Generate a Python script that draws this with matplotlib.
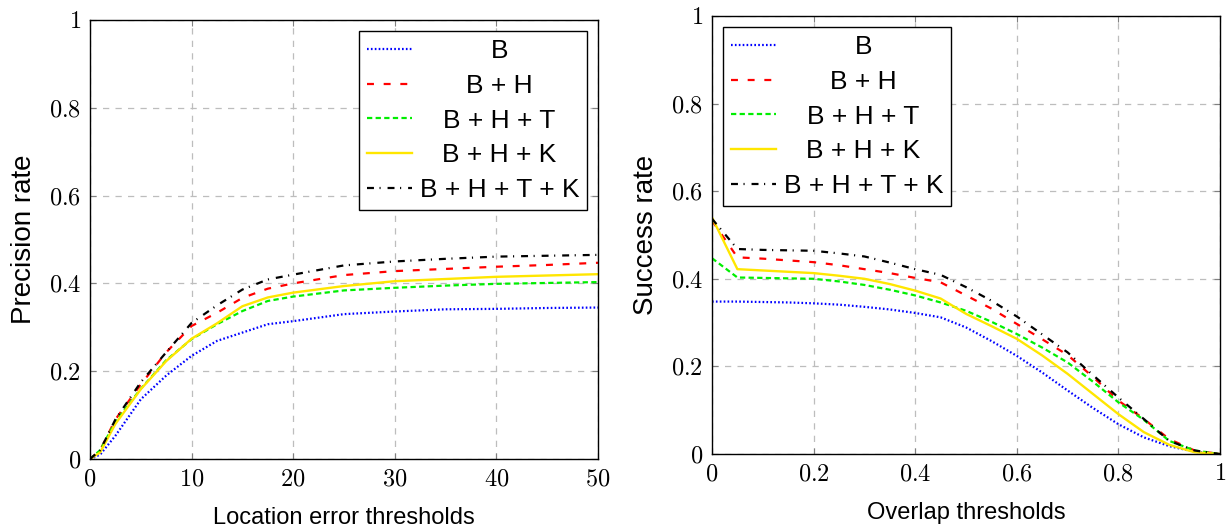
import numpy as np
import matplotlib
matplotlib.use("Agg")
from matplotlib import pyplot as plt
from matplotlib.ticker import FuncFormatter

plt.rcParams['mathtext.fontset'] = 'cm'
plt.rcParams['font.family'] = ['Liberation Sans', 'DejaVu Sans']
plt.rcParams['lines.scale_dashes'] = False

# Precision plot (location error thresholds)
prec_x = [0, 1, 2.5, 5, 7.5, 10, 12.5, 15, 17.5, 20, 25, 30, 35, 40, 45, 50]
prec_b = [0, 0.01, 0.053, 0.136, 0.19, 0.235, 0.269, 0.288, 0.307, 0.314, 0.33, 0.336, 0.341, 0.342, 0.344, 0.345]
prec_bh = [0, 0.02, 0.09, 0.17, 0.243, 0.303, 0.333, 0.367, 0.388, 0.40, 0.419, 0.428, 0.433, 0.438, 0.442, 0.447]
prec_bht = [0, 0.02, 0.085, 0.16, 0.225, 0.273, 0.307, 0.337, 0.36, 0.37, 0.384, 0.39, 0.395, 0.399, 0.401, 0.403]
prec_bhk = [0, 0.015, 0.08, 0.159, 0.223, 0.274, 0.309, 0.348, 0.368, 0.379, 0.394, 0.405, 0.41, 0.415, 0.418, 0.421]
prec_bhtk = [0, 0.02, 0.09, 0.175, 0.243, 0.31, 0.35, 0.386, 0.409, 0.42, 0.441, 0.45, 0.456, 0.461, 0.463, 0.465]

# Success plot (overlap thresholds)
succ_x = [0, 0.05, 0.1, 0.15, 0.2, 0.25, 0.3, 0.35, 0.4, 0.45, 0.5,
          0.55, 0.6, 0.65, 0.7, 0.75, 0.8, 0.85, 0.9, 0.95, 1.0]
succ_b = [0.348, 0.348, 0.347, 0.346, 0.344, 0.341, 0.336, 0.330, 0.322, 0.312, 0.289,
          0.258, 0.224, 0.186, 0.145, 0.105, 0.068, 0.038, 0.018, 0.005, 0.0]
succ_bh = [0.533, 0.449, 0.446, 0.442, 0.438, 0.431, 0.422, 0.413, 0.402, 0.392, 0.362,
           0.332, 0.297, 0.262, 0.226, 0.176, 0.122, 0.08, 0.034, 0.008, 0.0]
succ_bht = [0.447, 0.403, 0.402, 0.401, 0.40, 0.394, 0.386, 0.375, 0.362, 0.346, 0.327,
            0.302, 0.274, 0.243, 0.209, 0.165, 0.118, 0.078, 0.03, 0.008, 0.0]
succ_bhk = [0.540, 0.422, 0.419, 0.416, 0.413, 0.407, 0.40, 0.388, 0.373, 0.355, 0.32,
            0.292, 0.263, 0.225, 0.183, 0.137, 0.091, 0.05, 0.021, 0.004, 0.0]
succ_bhtk = [0.537, 0.468, 0.466, 0.465, 0.464, 0.458, 0.451, 0.437, 0.422, 0.409, 0.381,
             0.35, 0.314, 0.273, 0.232, 0.18, 0.129, 0.08, 0.03, 0.008, 0.0]

labels = ['B', 'B + H', 'B + H + T', 'B + H + K', 'B + H + T + K']
styles = [
    dict(color='#0000ff', linestyle=(0, (1.2, 1.6)), lw=1.6),
    dict(color='#ff0000', linestyle=(0, (5, 7)), lw=1.6),
    dict(color='#00ee00', linestyle=(0, (3.8, 2.4)), lw=1.6),
    dict(color='#ffe600', linestyle='-', lw=1.7),
    dict(color='black', linestyle=(0, (5, 4, 0.8, 5)), lw=1.6),
]

fig = plt.figure(figsize=(12.31, 5.32), dpi=100)
ax1 = fig.add_axes([90 / 1231, 1 - 459 / 532, 508 / 1231, 439 / 532])
ax2 = fig.add_axes([712 / 1231, 1 - 454 / 532, 508 / 1231, 438 / 532])

def fmt(v, pos):
    return '$' + ('%g' % v) + '$'

def style_axes(ax, xticks, xlim):
    ax.set_xlim(*xlim)
    ax.set_ylim(0, 1)
    ax.set_xticks(xticks)
    ax.set_yticks([0, 0.2, 0.4, 0.6, 0.8, 1])
    ax.xaxis.set_major_formatter(FuncFormatter(fmt))
    ax.yaxis.set_major_formatter(FuncFormatter(fmt))
    ax.grid(True, color='#bdbdbd', linestyle=(0, (4.5, 4.5)), lw=0.9)
    ax.tick_params(direction='in', top=True, right=True, length=4, width=0.8,
                   color='#808080', labelsize=17.5, pad=6.5)
    for sp in ax.spines.values():
        sp.set_linewidth(1.0)
        sp.set_color('black')

series1 = [prec_b, prec_bh, prec_bht, prec_bhk, prec_bhtk]
for y, st, lab in zip(series1, styles, labels):
    ax1.plot(prec_x, y, label=lab, **st)
style_axes(ax1, [0, 10, 20, 30, 40, 50], (0, 50))
ax1.set_xlabel('Location error thresholds', fontsize=17, labelpad=12)
ax1.set_ylabel('Precision rate', fontsize=20, labelpad=8)

series2 = [succ_b, succ_bh, succ_bht, succ_bhk, succ_bhtk]
for y, st, lab in zip(series2, styles, labels):
    ax2.plot(succ_x, y, label=lab, **st)
style_axes(ax2, [0, 0.2, 0.4, 0.6, 0.8, 1], (0, 1))
ax2.set_xlabel('Overlap thresholds', fontsize=17, labelpad=12)
ax2.set_ylabel('Success rate', fontsize=20, labelpad=8)

leg_kw = dict(fontsize=19, fancybox=False, framealpha=1, edgecolor='black',
              handlelength=1.7, handletextpad=0.3, labelspacing=0.41,
              borderpad=0.3, borderaxespad=0.42)
leg1 = ax1.legend(loc='upper right', **leg_kw)
leg2 = ax2.legend(loc='upper left', **leg_kw)
for leg in (leg1, leg2):
    leg.get_frame().set_linewidth(1.0)

# center legend labels inside the text column
fig.canvas.draw()
renderer = fig.canvas.get_renderer()
for leg in (leg1, leg2):
    texts = leg.get_texts()
    widths = [t.get_window_extent(renderer).width for t in texts]
    maxw = max(widths)
    for t, w in zip(texts, widths):
        t.set_x((maxw - w) / 2)

fig.savefig('out.png', dpi=100)
